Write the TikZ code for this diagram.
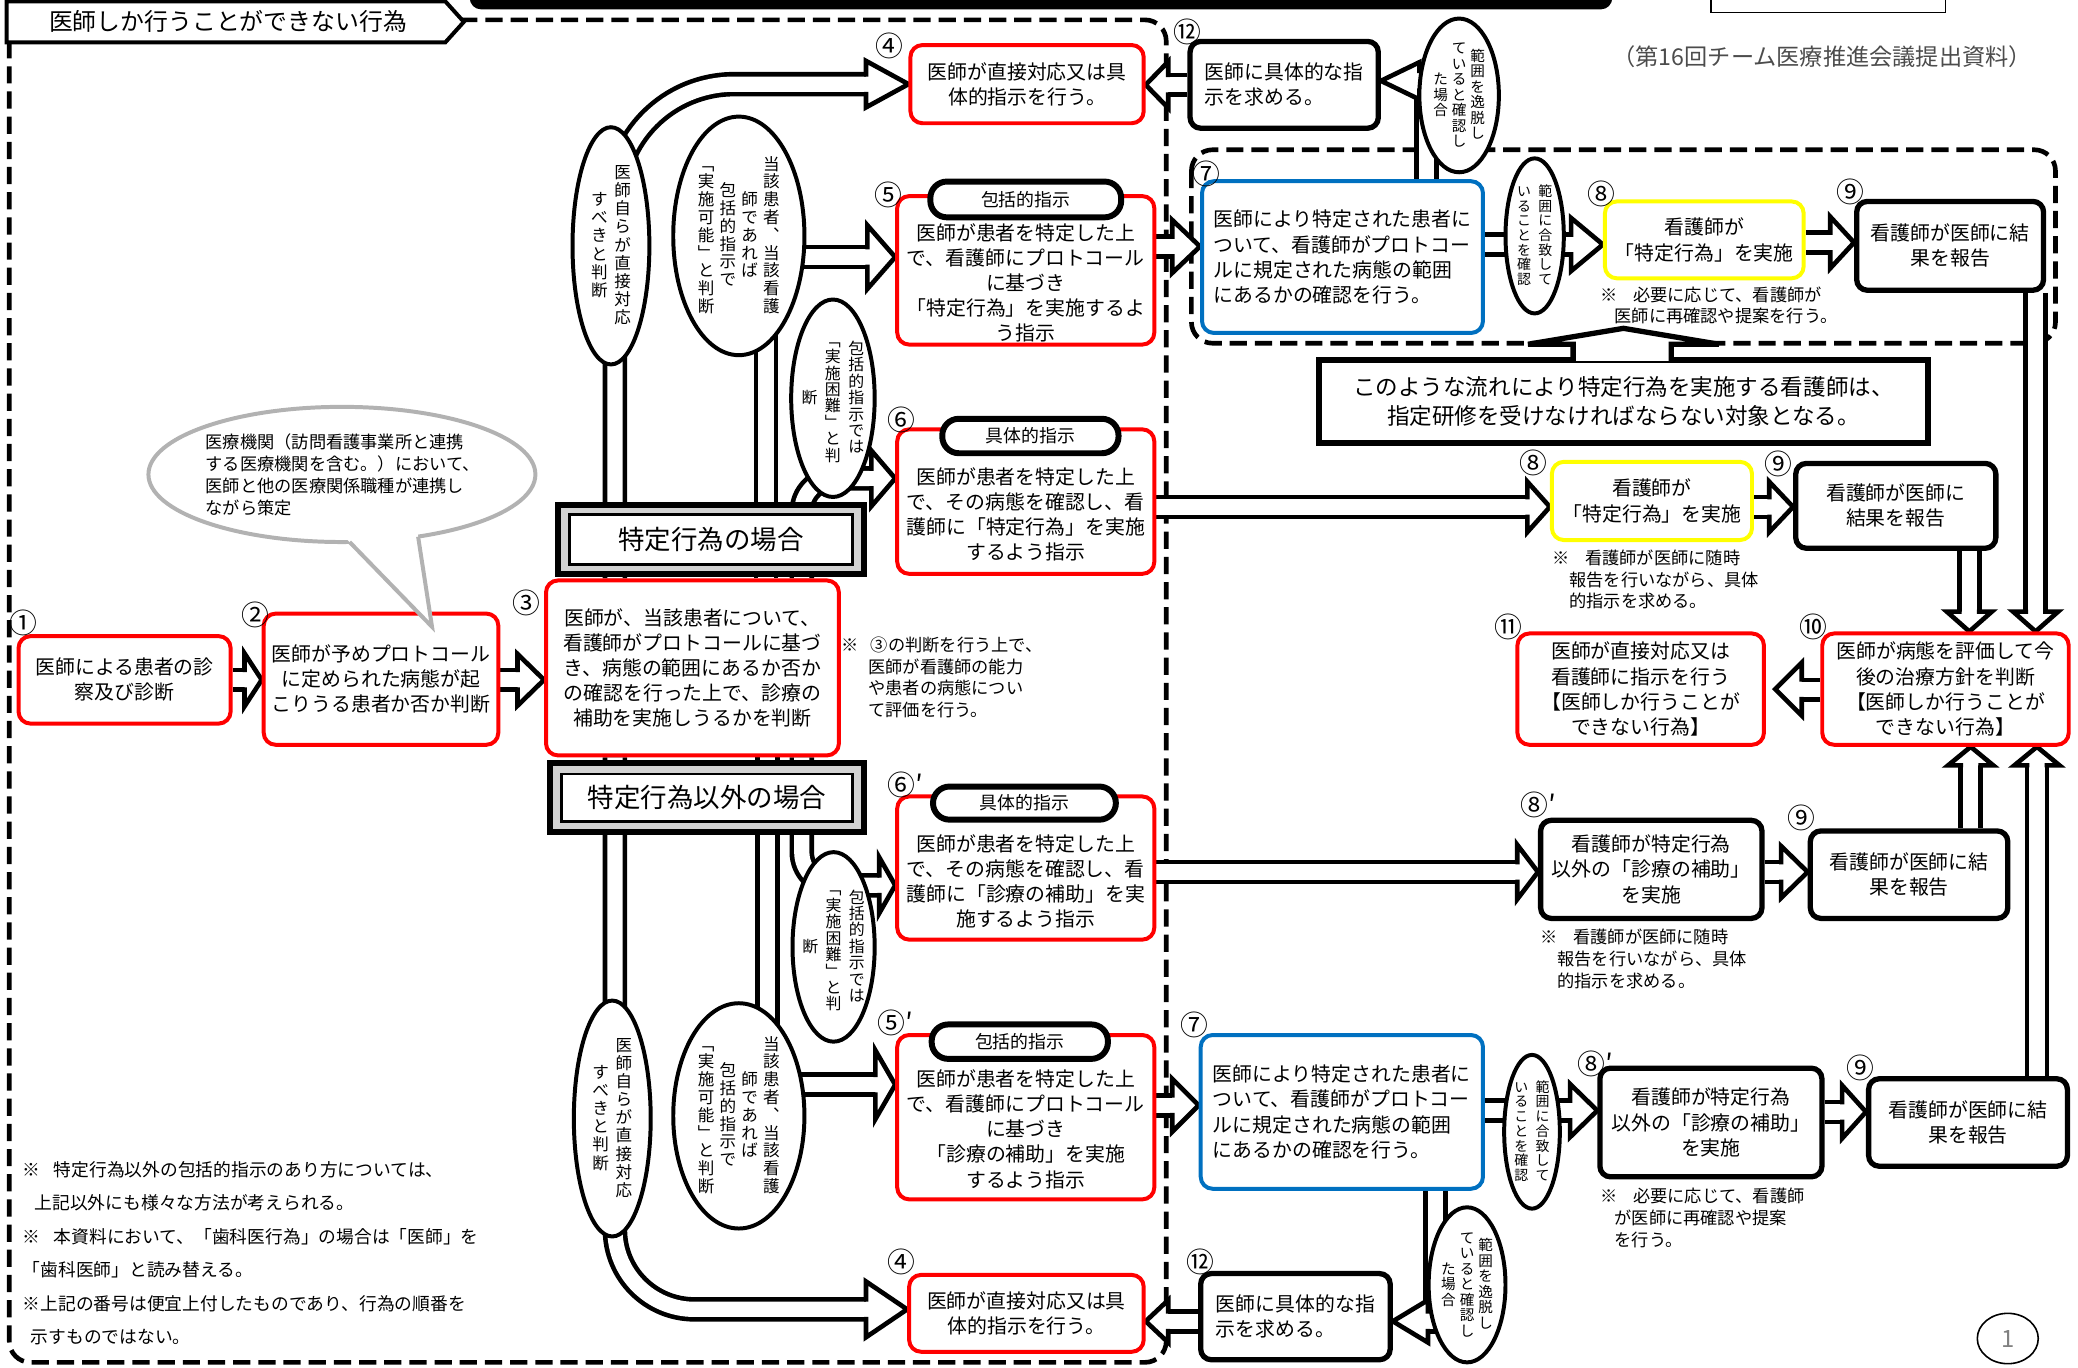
\documentclass[tikz,border=0pt]{standalone}
\usepackage{fontspec}
\setmainfont{Noto Sans CJK JP}
\usetikzlibrary{shapes.geometric}

\definecolor{boxred}{RGB}{255,0,0}
\definecolor{boxblue}{RGB}{0,112,192}
\definecolor{boxyellow}{RGB}{255,255,0}

% tategaki columns
\newdimen\vgap
\newcommand\vc[1]{\vbox{\offinterlineskip\vcx#1\relax}}
\def\vcx#1{\ifx\relax#1\else\hbox to 1em{\hss\vrule height .86em depth .14em width 0pt\relax#1\hss}\kern\vgap\expandafter\vcx\fi}

\pgfdeclarelayer{back}
\pgfsetlayers{back,main}

\tikzset{
  rbox/.style={draw=boxred, line width=3pt, rounded corners=9pt, fill=white, align=center, inner sep=0pt, font=\fontsize{15}{19}\selectfont},
  kbox/.style={rbox, draw=black, line width=4pt, rounded corners=8pt},
  bbox/.style={rbox, draw=boxblue},
  ybox/.style={rbox, draw=boxyellow},
  btext/.style={align=center, inner sep=0pt, font=\fontsize{15}{19}\selectfont},
  pill/.style={draw, line width=4.5pt, rounded corners=12.5pt, fill=white, inner sep=0pt, font=\fontsize{13.5}{14}\selectfont},
  secbox/.style={draw, line width=2pt, fill=white, inner sep=0pt, font=\fontsize{20}{20}\selectfont},
  secframe/.style={line width=4.5pt, fill=gray!35},
  oval/.style={draw, ellipse, line width=3pt, fill=white, inner sep=0pt},
  vt/.style={inner sep=0pt, font=\fontsize{12.5}{12.5}\selectfont},
  num/.style={inner sep=0pt, font=\fontsize{21}{21}\selectfont},
  note/.style={inner sep=0pt, anchor=north west, align=left, font=\fontsize{13}{16.5}\selectfont},
  dregion/.style={line width=3.5pt, dash pattern=on 13pt off 6pt, rounded corners=16pt},
  pipe/.style={line width=3.5pt, double=white, double distance=11.5pt},
  hl/.store in=\ahlen, hh/.store in=\ahhw, hl=20, hh=20,
  pics/ahead/.style={code={
    \fill[white] (0,0) -- (-\ahlen,\ahhw) -- (-\ahlen,-\ahhw) -- cycle;
    \draw[line width=3.5pt, line join=miter] (-\ahlen-1.5,7.5) -- (-\ahlen,7.5) -- (-\ahlen,\ahhw)
      -- (0,0) -- (-\ahlen,-\ahhw) -- (-\ahlen,-7.5) -- (-\ahlen-1.5,-7.5);
  }}
}

\begin{document}
\begin{tikzpicture}[x=1pt, y=-1pt]
\useasboundingbox (0,0) rectangle (1568,1032);

% header remnants
\draw[line width=7pt, rounded corners=5pt] (358,-30) rectangle (1213,3.5);
\draw[line width=1pt] (1291,-20) rectangle (1468,9.5);
\node[text=black!70, font=\fontsize{17.5}{17.5}\selectfont] (src) at (1375,43) {（第16回チーム医療推進会議提出資料）};

% tab
\draw[line width=3pt, fill=white] (5,1) -- (336,1) -- (350,16.5) -- (336,32) -- (5,32) -- cycle;
\node[font=\fontsize{18}{18}\selectfont] (tab) at (172,16.5) {医師しか行うことができない行為};

% start of the flow
\node[rbox, minimum width=160pt, minimum height=66pt] (b1) at (94,513) {医師による患者の診\\察及び診断};
\node[rbox, minimum width=177pt, minimum height=99pt] (b2) at (287.5,512.5) {医師が予めプロトコール\\に定められた病態が起\\こりうる患者か否か判断};
\node[rbox, minimum width=221pt, minimum height=132pt] (b3) at (522.5,504) {医師が、当該患者について、\\看護師がプロトコールに基づ\\き、病態の範囲にあるか否か\\の確認を行った上で、診療の\\補助を実施しうるかを判断};

% speech bubble
\node[draw=gray!60, line width=3pt, ellipse, fill=white, minimum width=292pt, minimum height=102pt, inner sep=0pt] (bub) at (258,358) {};
\fill[white] (257,402) -- (326,473) -- (315,401.5) -- cycle;
\draw[gray!60, line width=3pt, line join=miter] (263.8,409) -- (326,473) -- (315.5,405);
\node[note, font=\fontsize{13}{16.7}\selectfont] (bubt) at (155,327) {医療機関（訪問看護事業所と連携\\する医療機関を含む。）において、\\医師と他の医療関係職種が連携し\\ながら策定};

\node[note, font=\fontsize{13}{16.3}\selectfont] (n3) at (635,480.5) {※\hspace{9pt}③の判断を行う上で、\\\hspace*{20pt}医師が看護師の能力\\\hspace*{20pt}や患者の病態につい\\\hspace*{20pt}て評価を行う。};

% case headings
\draw[secframe] (421,381) rectangle (652,433);
\node[secbox, minimum width=214pt, minimum height=38pt] (s1) at (536.5,407) {特定行為の場合};
\draw[secframe] (415,576) rectangle (652,628);
\node[secbox, minimum width=220pt, minimum height=36pt] (s2) at (533.5,602) {特定行為以外の場合};

% doctor's instructions
\node[rbox, minimum width=176pt, minimum height=59pt] (b4a) at (775,63.5) {医師が直接対応又は具\\体的指示を行う。};
\node[rbox, minimum width=194pt, minimum height=112pt] (b5) at (774,204) {};
\node[btext] (b5t) at (774,213.5) {医師が患者を特定した上\\で、看護師にプロトコール\\に基づき\\「特定行為」を実施するよ\\う指示};
\node[pill, minimum width=144pt, minimum height=27pt] (p5) at (774,150.5) {包括的指示};
\node[rbox, minimum width=194pt, minimum height=109pt] (b6) at (774,378.5) {};
\node[btext] (b6t) at (774,388) {医師が患者を特定した上\\で、その病態を確認し、看\\護師に「特定行為」を実施\\するよう指示};
\node[pill, minimum width=133pt, minimum height=26pt] (p6) at (777.5,329) {具体的指示};
\node[rbox, minimum width=194pt, minimum height=108pt] (b6p) at (774,655) {};
\node[btext] (b6pt) at (774,665) {医師が患者を特定した上\\で、その病態を確認し、看\\護師に「診療の補助」を実\\施するよう指示};
\node[pill, minimum width=138pt, minimum height=25pt] (p6p) at (773,606) {具体的指示};
\node[rbox, minimum width=194pt, minimum height=124pt] (b5p) at (774,843) {};
\node[btext] (b5pt) at (774,852) {医師が患者を特定した上\\で、看護師にプロトコール\\に基づき\\「診療の補助」を実施\\するよう指示};
\node[pill, minimum width=133pt, minimum height=26pt] (p5p) at (769.5,786) {包括的指示};
\node[rbox, minimum width=177pt, minimum height=58pt] (b4b) at (774.5,991) {医師が直接対応又は具\\体的指示を行う。};

% judgement ovals
\node[oval, minimum width=58pt, minimum height=179pt] (elA) at (461,185.5) {};
\node[vt] (elAt) at (elA) {\vgap=1.2pt$\vcenter{\vc{すべきと判断}}\kern5pt\vcenter{\vc{医師自らが直接対応}}$};
\node[oval, minimum width=99pt, minimum height=180pt] (elB) at (557.5,178) {};
\node[vt] (elBt) at (elB) {\vgap=0.9pt$\vcenter{\vc{﹁実施可能﹂と判断}}\kern3.9pt\vcenter{\vc{包括的指示で}}\kern3.9pt\vcenter{\vc{師であれば}}\kern3.9pt\vcenter{\vc{当該患者︑当該看護}}$};
\node[oval, minimum width=63pt, minimum height=149pt] (elC) at (628.5,300.5) {};
\node[vt, font=\fontsize{12}{12}\selectfont] (elCt) at (elC) {\vgap=0.4pt$\vcenter{\vc{断}}\kern5.6pt\vcenter{\vc{﹁実施困難﹂と判}}\kern5.6pt\vcenter{\vc{包括的指示では}}$};
\node[oval, minimum width=62pt, minimum height=143pt] (elCp) at (629,714.5) {};
\node[vt, font=\fontsize{12}{12}\selectfont] (elCpt) at (elCp) {\vgap=0.4pt$\vcenter{\vc{断}}\kern5.6pt\vcenter{\vc{﹁実施困難﹂と判}}\kern5.6pt\vcenter{\vc{包括的指示では}}$};
\node[oval, minimum width=99pt, minimum height=170pt] (elBp) at (557.5,842) {};
\node[vt] (elBpt) at (elBp) {\vgap=0.9pt$\vcenter{\vc{﹁実施可能﹂と判断}}\kern3.9pt\vcenter{\vc{包括的指示で}}\kern3.9pt\vcenter{\vc{師であれば}}\kern3.9pt\vcenter{\vc{当該患者︑当該看護}}$};
\node[oval, minimum width=58pt, minimum height=178pt] (elAp) at (462,844) {};
\node[vt] (elApt) at (elAp) {\vgap=1.2pt$\vcenter{\vc{すべきと判断}}\kern5pt\vcenter{\vc{医師自らが直接対応}}$};

% nurse side, top
\node[kbox, minimum width=142pt, minimum height=65.5pt, align=left] (b12a) at (969,64) {医師に具体的な指\\示を求める。};
\node[bbox, minimum width=212pt, minimum height=114.5pt, align=left] (b7a) at (1013,194) {医師により特定された患者に\\ついて、看護師がプロトコー\\ルに規定された病態の範囲\\にあるかの確認を行う。};
\node[ybox, minimum width=150pt, minimum height=58pt] (b8a) at (1286,181) {看護師が\\「特定行為」を実施};
\node[kbox, minimum width=141pt, minimum height=67pt] (b9a) at (1471.5,185.5) {看護師が医師に結\\果を報告};
\node[note] (n8a) at (1207.6,216) {※\hspace{11.5pt}必要に応じて、看護師が\\\hspace*{10.5pt}医師に再確認や提案を行う。};
\node[oval, minimum width=60pt, minimum height=116pt] (elD) at (1101,72) {};
\node[vt, font=\fontsize{11}{11}\selectfont] (elDt) at (elD) {\vgap=0.7pt$\vcenter{\vc{た場合}}\kern3pt\vcenter{\vc{ていると確認し}}\kern3pt\vcenter{\vc{範囲を逸脱し}}$};
\node[oval, minimum width=44pt, minimum height=117pt] (elE) at (1158,178) {};
\node[vt, font=\fontsize{10.5}{10.5}\selectfont] (elEt) at (elE) {\vgap=0.6pt$\vcenter{\vc{いることを確認}}\kern5.5pt\vcenter{\vc{範囲に合致して}}$};

\node[draw, line width=4.5pt, fill=white, minimum width=459pt, minimum height=62pt, align=center, inner sep=0pt, font=\fontsize{17}{21.5}\selectfont] (cnote) at (1225,303) {このような流れにより特定行為を実施する看護師は、\\指定研修を受けなければならない対象となる。};
\draw[line width=4pt, fill=white, line join=miter] ([shift={(-38,2.5)}]cnote.north) -- ++(0,-12.5) -- ++(-34,0) -- ++(72,-12) -- ++(72,12) -- ++(-36,0) -- ++(0,12.5);

\node[ybox, minimum width=151pt, minimum height=59pt] (b8m) at (1246.5,378) {看護師が\\「特定行為」を実施};
\node[kbox, minimum width=151pt, minimum height=64pt] (b9m) at (1430.5,381.7) {看護師が医師に\\結果を報告};
\node[note] (n8m) at (1171,414.5) {※\hspace{12pt}看護師が医師に随時\\\hspace*{13pt}報告を行いながら、具体\\\hspace*{13pt}的指示を求める。};

\node[rbox, minimum width=186pt, minimum height=84pt] (b11) at (1238,520) {医師が直接対応又は\\看護師に指示を行う\\【医師しか行うことが\\できない行為】};
\node[rbox, minimum width=186pt, minimum height=84pt] (b10) at (1468,520) {医師が病態を評価して今\\後の治療方針を判断\\【医師しか行うことが\\できない行為】};

% nurse side, bottom
\node[kbox, minimum width=167pt, minimum height=74pt] (b8pm) at (1246,656) {看護師が特定行為\\以外の「診療の補助」\\を実施};
\node[kbox, minimum width=149pt, minimum height=66pt] (b9pm) at (1440.5,660) {看護師が医師に結\\果を報告};
\node[note] (n8pm) at (1162.5,701) {※\hspace{11.5pt}看護師が医師に随時\\\hspace*{12.5pt}報告を行いながら、具体\\\hspace*{12.5pt}的指示を求める。};

\node[bbox, minimum width=213pt, minimum height=116pt, align=left] (b7b) at (1012.5,839) {医師により特定された患者に\\ついて、看護師がプロトコー\\ルに規定された病態の範囲\\にあるかの確認を行う。};
\node[kbox, minimum width=167.5pt, minimum height=82pt] (b8pb) at (1291,847) {看護師が特定行為\\以外の「診療の補助」\\を実施};
\node[kbox, minimum width=150pt, minimum height=66pt] (b9b) at (1485,847) {看護師が医師に結\\果を報告};
\node[note] (n8pb) at (1207.6,896.5) {※\hspace{11.5pt}必要に応じて、看護師\\\hspace*{10.5pt}が医師に再確認や提案\\\hspace*{10.5pt}を行う。};
\node[oval, minimum width=42pt, minimum height=116pt] (elEp) at (1156,854) {};
\node[vt, font=\fontsize{10.5}{10.5}\selectfont] (elEpt) at (elEp) {\vgap=0.6pt$\vcenter{\vc{いることを確認}}\kern5.5pt\vcenter{\vc{範囲に合致して}}$};
\node[kbox, minimum width=143pt, minimum height=65pt, align=left] (b12b) at (977.5,993.5) {医師に具体的な指\\示を求める。};
\node[oval, minimum width=58pt, minimum height=117pt] (elF) at (1107,969.5) {};
\node[vt, font=\fontsize{11}{11}\selectfont] (elFt) at (elF) {\vgap=0.7pt$\vcenter{\vc{た場合}}\kern3pt\vcenter{\vc{ていると確認し}}\kern3pt\vcenter{\vc{範囲を逸脱し}}$};

% numbers
\node[num] (l1) at (18,470) {①};
\node[num] (l2) at (193,464) {②};
\node[num] (l3) at (397,455) {③};
\node[num] (l4a) at (671,35) {④};
\node[num] (l5) at (670,147) {⑤};
\node[num] (l6) at (680,317) {⑥};
\node[num] (l6p) at (680,592) {⑥\rlap{′}};
\node[num] (l5p) at (673,772) {⑤\rlap{′}};
\node[num] (l4b) at (680,952) {④};
\node[num] (l12a) at (896,24) {⑫};
\node[num] (l7a) at (910,131) {⑦};
\node[num] (l8a) at (1208,146) {⑧};
\node[num] (l9a) at (1396,145) {⑨};
\node[num] (l8m) at (1157,349) {⑧};
\node[num] (l9m) at (1342,350) {⑨};
\node[num] (l11) at (1138,473) {⑪};
\node[num] (l10) at (1368,473) {⑩};
\node[num] (l8pm) at (1158,607) {⑧\rlap{′}};
\node[num] (l9pm) at (1359,617) {⑨};
\node[num] (l7b) at (901,773) {⑦};
\node[num] (l8pb) at (1201,803) {⑧\rlap{′}};
\node[num] (l9b) at (1404,806) {⑨};
\node[num] (l12b) at (906,952) {⑫};

% footnotes
\node[note, font=\fontsize{13.4}{25.3}\selectfont] (foot) at (17,876) {※\hspace{10pt}特定行為以外の包括的指示のあり方については、\\\hspace*{9pt}上記以外にも様々な方法が考えられる。\\※\hspace{10pt}本資料において、「歯科医行為」の場合は「医師」を\\「歯科医師」と読み替える。\\※上記の番号は便宜上付したものであり、行為の順番を\\\hspace*{6pt}示すものではない。};
\node[draw, ellipse, line width=1.2pt, minimum width=46pt, minimum height=38pt, inner sep=0pt, text=gray, font=\fontsize{18}{18}\selectfont] (pg) at (1515,1010) {1};

\begin{pgfonlayer}{back}
% dashed areas
\draw[dregion] (7,15) rectangle (880,1028);
\draw[dregion] (899,113) rectangle (1551,259);

% left fan
\draw[pipe] (b1.east |- 0,513) -- (186,513);
\pic[hl=13, hh=20] at (b2.west |- 0,513) {ahead};
\draw[pipe] (b2.east |- 0,513) -- (392,513);
\pic[hl=20, hh=19.5] at (b3.west |- 0,513) {ahead};
\draw[pipe, rounded corners=90pt] (464,0 |- b3.north) |- (655,63.5);
\pic[hl=32, hh=17.5] at (b4a.west) {ahead};
\draw[pipe] (578,0 |- b3.north) |- (656,194);
\pic[hl=21, hh=24] at (b5.west |- 0,194) {ahead};
\draw[pipe, rounded corners=25pt] (605,0 |- b3.north) |- (659,361);
\pic[hl=18, hh=21] at (b6.west |- 0,361) {ahead};
\draw[pipe, rounded corners=25pt] (605,0 |- b3.south) |- (665,668);
\pic[hl=12, hh=21] at (b6p.west |- 0,668) {ahead};
\draw[pipe] (579,0 |- b3.south) |- (662,818.5);
\pic[hl=15, hh=26] at (b5p.west |- 0,818.5) {ahead};
\draw[pipe, rounded corners=60pt] (464,0 |- b3.south) |- (655,988);
\pic[hl=31, hh=21] at (b4b.west |- 0,988) {ahead};

% top row
\draw[pipe] (b12a.west |- 0,64) -- (880,64);
\pic[rotate=180, hl=17, hh=17.5] at (b4a.east |- 0,64) {ahead};
\draw[pipe] (1076.5,0 |- b7a.north) |- (1069,61);
\pic[rotate=180, hl=29, hh=14] at (b12a.east |- 0,61) {ahead};
\draw[pipe] (b5.east |- 0,186) -- (886,186);
\pic[hl=21, hh=20] at (b7a.west |- 0,186) {ahead};
\draw[pipe] (b7a.east |- 0,184.5) -- (1187,184.5);
\pic[hl=24, hh=20] at (b8a.west |- 0,184.5) {ahead};
\draw[pipe] (b8a.east |- 0,183) -- (1383,183);
\pic[hl=18, hh=19.5] at (b9a.west |- 0,183) {ahead};

% specific instruction rows
\draw[pipe] (b6.east |- 0,382.5) -- (1154,382.5);
\pic[hl=17, hh=19] at (b8m.west |- 0,382.5) {ahead};
\draw[pipe] (b8m.east |- 0,382.5) -- (1337,382.5);
\pic[hl=18, hh=19] at (b9m.west |- 0,382.5) {ahead};
\draw[pipe] (b6p.east |- 0,658) -- (1147,658);
\pic[hl=15.6, hh=20.5] at (b8pm.west |- 0,658) {ahead};
\draw[pipe] (b8pm.east |- 0,658) -- (1346,658);
\pic[hl=20, hh=19.5] at (b9pm.west |- 0,658) {ahead};

% into the doctor's evaluation
\draw[pipe] (1486,0 |- b9m.south) -- (1486,463);
\pic[rotate=-90, hl=15, hh=17] at (1486,0 |- b10.north) {ahead};
\draw[pipe] (1536,0 |- b9a.south) -- (1536,463);
\pic[rotate=-90, hl=15, hh=17] at (1536,0 |- b10.north) {ahead};
\draw[pipe] (1487,0 |- b9pm.north) -- (1487,576);
\pic[rotate=90, hl=14, hh=17] at (1487,0 |- b10.south) {ahead};
\draw[pipe] (1537,0 |- b9b.north) -- (1537,576);
\pic[rotate=90, hl=14, hh=17] at (1537,0 |- b10.south) {ahead};
\draw[pipe] (b10.west |- 0,520.5) -- (1358,520.5);
\pic[rotate=180, hl=20, hh=20] at ([xshift=7pt]b11.east) {ahead};

% bottom row
\draw[pipe] (b5p.east |- 0,834) -- (886,834);
\pic[hl=20, hh=20] at (b7b.west |- 0,834) {ahead};
\draw[pipe] (b7b.east |- 0,838) -- (1187,838);
\pic[hl=20.5, hh=20] at (b8pb.west |- 0,838) {ahead};
\draw[pipe] (b8pb.east |- 0,839) -- (1392,839);
\pic[hl=18, hh=20] at (b9b.west |- 0,839) {ahead};
\draw[pipe] (1083,0 |- b7b.south) |- (1075.5,997);
\pic[rotate=180, hl=26.5, hh=16] at (b12b.east |- 0,997) {ahead};
\draw[pipe] (b12b.west |- 0,997) -- (880,997);
\pic[rotate=180, hl=17, hh=16] at (b4b.east |- 0,997) {ahead};
\end{pgfonlayer}
\end{tikzpicture}
\end{document}
